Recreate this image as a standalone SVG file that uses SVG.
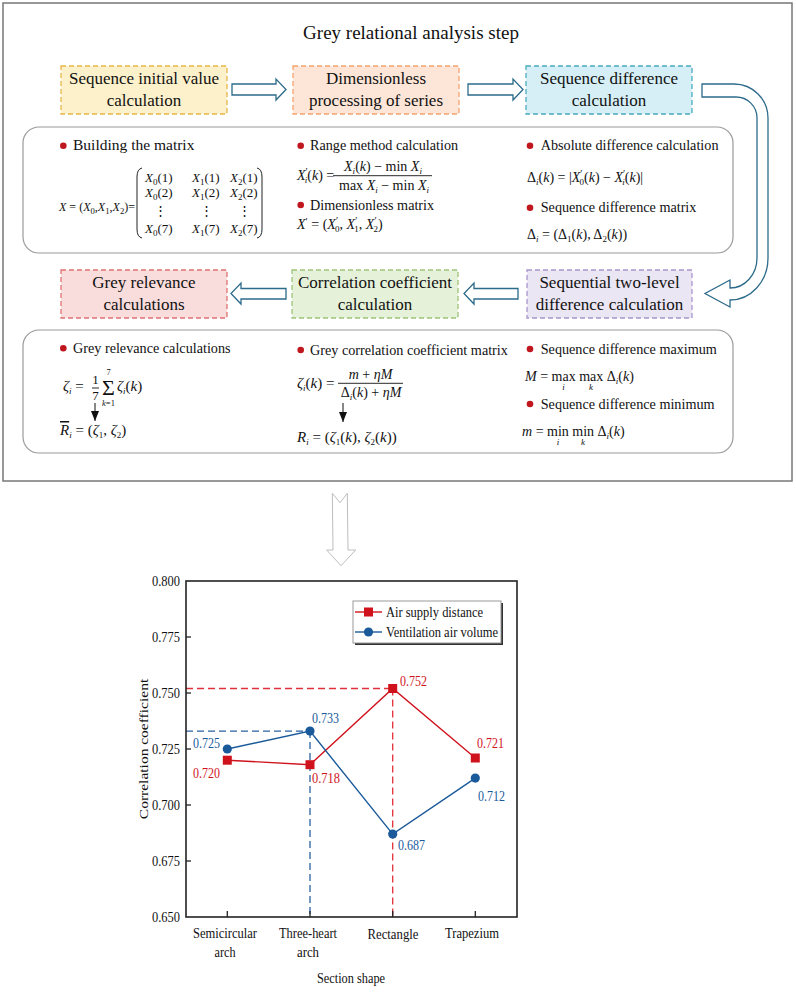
<svg xmlns="http://www.w3.org/2000/svg" width="796" height="993" viewBox="0 0 796 993">
<style>
.t{font-family:"Liberation Serif","DejaVu Serif",serif;fill:#111}
.bx{font-size:17px;text-anchor:middle}
.hd{font-size:14.2px}
.f{font-size:14px}
.g{font-size:15px}
.i{font-style:italic}
.s{font-size:9px;font-style:italic}
.d{font-size:9px;font-style:normal}
.panel{fill:#fff;stroke:#9a9a9a;stroke-width:1.2}
.bul{fill:#c0161e}
.harrow{fill:#fff;stroke:#2c6b8a;stroke-width:1.3}
.dash{stroke-dasharray:5 3;stroke-width:1.3}
.ax{font-size:15px}
.tick{stroke:#222;stroke-width:1.3}
.red{fill:#d0121c}
.blue{fill:#1a5a9a}
</style>
<defs>
<marker id="ah" viewBox="0 0 10 8" refX="10" refY="4" markerWidth="10" markerHeight="8" markerUnits="userSpaceOnUse" orient="auto">
<path d="M0,0 L10,4 L0,8 Z" fill="#111"/>
</marker>
</defs>
<rect x="0" y="0" width="796" height="993" fill="#fff"/>
<rect x="3" y="3" width="789" height="478" fill="#fff" stroke="#777" stroke-width="1.5"/>
<text class="t" x="411" y="39" font-size="19" text-anchor="middle">Grey relational analysis step</text>

<g id="box-initial">
<rect x="61" y="66" width="166" height="48" fill="#fdf1cc" stroke="#e6b54a" class="dash"/>
<text class="t bx" x="144" y="84">Sequence initial value</text>
<text class="t bx" x="144" y="106">calculation</text>
</g>
<g id="box-dimensionless">
<rect x="293" y="66" width="166" height="48" fill="#fde6d8" stroke="#f4a46c" class="dash"/>
<text class="t bx" x="376" y="84">Dimensionless</text>
<text class="t bx" x="376" y="106">processing of series</text>
</g>
<g id="box-difference">
<rect x="526" y="66" width="166" height="48" fill="#d6eff6" stroke="#4aabbd" class="dash"/>
<text class="t bx" x="609" y="84">Sequence difference</text>
<text class="t bx" x="609" y="106">calculation</text>
</g>
<g id="box-relevance">
<rect x="61" y="270" width="166" height="48" fill="#f9dcdc" stroke="#e07070" class="dash"/>
<text class="t bx" x="144" y="288">Grey relevance</text>
<text class="t bx" x="144" y="310">calculations</text>
</g>
<g id="box-coefficient">
<rect x="292" y="270" width="166" height="48" fill="#e6f1d9" stroke="#9cc47a" class="dash"/>
<text class="t bx" x="375" y="288">Correlation coefficient</text>
<text class="t bx" x="375" y="310">calculation</text>
</g>
<g id="box-twolevel">
<rect x="527" y="270" width="165" height="48" fill="#ebe6f3" stroke="#a896cc" class="dash"/>
<text class="t bx" x="609.5" y="288">Sequential two-level</text>
<text class="t bx" x="609.5" y="310">difference calculation</text>
</g>

<g id="panel-1">
<rect class="panel" x="23" y="127" width="710" height="126" rx="16"/>
<circle class="bul" cx="63.3" cy="145.7" r="3.3"/>
<text class="t" x="73" y="150" font-size="15.5">Building the matrix</text>
<text class="t" x="59" y="211" font-size="12.5" textLength="76" lengthAdjust="spacingAndGlyphs"><tspan class="i">X</tspan> = (<tspan class="i">X</tspan><tspan class="d" dy="2.5">0</tspan><tspan dy="-2.5">,</tspan><tspan class="i">X</tspan><tspan class="d" dy="2.5">1</tspan><tspan dy="-2.5">,</tspan><tspan class="i">X</tspan><tspan class="d" dy="2.5">2</tspan><tspan dy="-2.5">)=</tspan></text>
<path d="M142,168 Q137,169 137,177 V229 Q137,237 142,238" fill="none" stroke="#222" stroke-width="1"/>
<path d="M257,168 Q262,169 262,177 V229 Q262,237 257,238" fill="none" stroke="#222" stroke-width="1"/>
<g class="t" font-size="13">
<text x="145" y="182"><tspan class="i">X</tspan><tspan class="d" dy="2.5">0</tspan><tspan dy="-2.5">(1)</tspan></text>
<text x="192" y="182"><tspan class="i">X</tspan><tspan class="d" dy="2.5">1</tspan><tspan dy="-2.5">(1)</tspan></text>
<text x="230" y="182"><tspan class="i">X</tspan><tspan class="d" dy="2.5">2</tspan><tspan dy="-2.5">(1)</tspan></text>
<text x="145" y="197"><tspan class="i">X</tspan><tspan class="d" dy="2.5">0</tspan><tspan dy="-2.5">(2)</tspan></text>
<text x="192" y="197"><tspan class="i">X</tspan><tspan class="d" dy="2.5">1</tspan><tspan dy="-2.5">(2)</tspan></text>
<text x="230" y="197"><tspan class="i">X</tspan><tspan class="d" dy="2.5">2</tspan><tspan dy="-2.5">(2)</tspan></text>
<text x="160" y="215" text-anchor="middle">⋮</text>
<text x="206" y="215" text-anchor="middle">⋮</text>
<text x="244" y="215" text-anchor="middle">⋮</text>
<text x="145" y="233"><tspan class="i">X</tspan><tspan class="d" dy="2.5">0</tspan><tspan dy="-2.5">(7)</tspan></text>
<text x="192" y="233"><tspan class="i">X</tspan><tspan class="d" dy="2.5">1</tspan><tspan dy="-2.5">(7)</tspan></text>
<text x="230" y="233"><tspan class="i">X</tspan><tspan class="d" dy="2.5">2</tspan><tspan dy="-2.5">(7)</tspan></text>
</g>
<circle class="bul" cx="300.7" cy="145.7" r="3.3"/>
<text class="t hd" x="310" y="150">Range method calculation</text>
<text class="t f" x="297" y="180"><tspan class="i">X</tspan><tspan font-size="10" dy="-5">′</tspan><tspan class="s" dx="-3" dy="8">i</tspan><tspan dy="-3">(</tspan><tspan class="i">k</tspan>) =</text>
<text class="t f" x="383" y="171" text-anchor="middle"><tspan class="i">X</tspan><tspan class="s" dy="3">i</tspan><tspan dy="-3">(</tspan><tspan class="i">k</tspan>) − min <tspan class="i">X</tspan><tspan class="s" dy="3">i</tspan></text>
<line x1="333" y1="175.7" x2="432" y2="175.7" stroke="#111" stroke-width="0.9"/>
<text class="t f" x="384" y="190" text-anchor="middle">max <tspan class="i">X</tspan><tspan class="s" dy="3">i</tspan><tspan dy="-3"> − min </tspan><tspan class="i">X</tspan><tspan class="s" dy="3">i</tspan></text>
<circle class="bul" cx="300.7" cy="205" r="3.3"/>
<text class="t hd" x="310" y="210">Dimensionless matrix</text>
<text class="t f" x="297" y="229"><tspan class="i">X</tspan><tspan font-size="10" dy="-4">′</tspan><tspan dy="4"> = (</tspan><tspan class="i">X</tspan><tspan font-size="10" dy="-5">′</tspan><tspan class="d" dx="-3" dy="8">0</tspan><tspan dy="-3">, </tspan><tspan class="i">X</tspan><tspan font-size="10" dy="-5">′</tspan><tspan class="d" dx="-3" dy="8">1</tspan><tspan dy="-3">, </tspan><tspan class="i">X</tspan><tspan font-size="10" dy="-5">′</tspan><tspan class="d" dx="-3" dy="8">2</tspan><tspan dy="-3">)</tspan></text>
<circle class="bul" cx="530" cy="145.7" r="3.3"/>
<text class="t hd" x="540.7" y="150">Absolute difference calculation</text>
<text class="t f" x="527" y="182">Δ<tspan class="s" dy="3">i</tspan><tspan dy="-3">(</tspan><tspan class="i">k</tspan>) = |<tspan class="i">X</tspan><tspan font-size="10" dy="-5">′</tspan><tspan class="d" dx="-3" dy="8">0</tspan><tspan dy="-3">(</tspan><tspan class="i">k</tspan>) − <tspan class="i">X</tspan><tspan font-size="10" dy="-5">′</tspan><tspan class="s" dx="-3" dy="8">i</tspan><tspan dy="-3">(</tspan><tspan class="i">k</tspan>)|</text>
<circle class="bul" cx="530" cy="207.7" r="3.3"/>
<text class="t hd" x="540.7" y="212">Sequence difference matrix</text>
<text class="t f" x="527" y="239">Δ<tspan class="s" dy="3">i</tspan><tspan dy="-3"> = (Δ</tspan><tspan class="d" dy="3">1</tspan><tspan dy="-3">(</tspan><tspan class="i">k</tspan>), Δ<tspan class="d" dy="3">2</tspan><tspan dy="-3">(</tspan><tspan class="i">k</tspan>))</text>
</g>

<g id="panel-2">
<rect class="panel" x="23" y="330" width="710" height="123" rx="16"/>
<circle class="bul" cx="63.3" cy="348.3" r="3.3"/>
<text class="t hd" x="73" y="353">Grey relevance calculations</text>
<text class="t g" x="63" y="391"><tspan class="i">ζ</tspan><tspan class="s" dy="3">i</tspan><tspan dy="-3"> =</tspan></text>
<text class="t" x="95.5" y="384" font-size="13" text-anchor="middle">1</text>
<line x1="92" y1="388" x2="99" y2="388" stroke="#111" stroke-width="0.9"/>
<text class="t" x="95.5" y="400" font-size="13" text-anchor="middle">7</text>
<text class="t" x="102" y="395" font-size="22">Σ</text>
<text class="t" x="108.5" y="375" font-size="8.5" text-anchor="middle">7</text>
<text class="t" x="108.5" y="406" font-size="8.5" text-anchor="middle"><tspan class="i">k</tspan>=1</text>
<text class="t g" x="117" y="391"><tspan class="i">ζ</tspan><tspan class="s" dy="3">i</tspan><tspan dy="-3">(</tspan><tspan class="i">k</tspan>)</text>
<text class="t g" x="60" y="435"><tspan class="i" text-decoration="overline">R</tspan><tspan class="s" dy="3">i</tspan><tspan dy="-3"> = (</tspan><tspan class="i">ζ</tspan><tspan class="d" dy="3">1</tspan><tspan dy="-3">, </tspan><tspan class="i">ζ</tspan><tspan class="d" dy="3">2</tspan><tspan dy="-3">)</tspan></text>
<circle class="bul" cx="300.7" cy="350" r="3.3"/>
<text class="t hd" x="310" y="354.5">Grey correlation coefficient matrix</text>
<text class="t g" x="297" y="388"><tspan class="i">ζ</tspan><tspan class="s" dy="3">i</tspan><tspan dy="-3">(</tspan><tspan class="i">k</tspan>) =</text>
<text class="t f" x="370.5" y="379" text-anchor="middle"><tspan class="i">m</tspan> + <tspan class="i">ηM</tspan></text>
<line x1="338" y1="383.3" x2="403" y2="383.3" stroke="#111" stroke-width="0.9"/>
<text class="t f" x="371" y="397" text-anchor="middle">Δ<tspan class="s" dy="3">i</tspan><tspan dy="-3">(</tspan><tspan class="i">k</tspan>) + <tspan class="i">ηM</tspan></text>
<text class="t g" x="297" y="442"><tspan class="i">R</tspan><tspan class="s" dy="3">i</tspan><tspan dy="-3"> = (</tspan><tspan class="i">ζ</tspan><tspan class="d" dy="3">1</tspan><tspan dy="-3">(</tspan><tspan class="i">k</tspan>), <tspan class="i">ζ</tspan><tspan class="d" dy="3">2</tspan><tspan dy="-3">(</tspan><tspan class="i">k</tspan>))</text>
<circle class="bul" cx="530" cy="349" r="3.3"/>
<text class="t hd" x="540.7" y="353.5">Sequence difference maximum</text>
<text class="t f" x="525" y="381"><tspan class="i">M</tspan> = max max Δ<tspan class="s" dy="3">i</tspan><tspan dy="-3">(</tspan><tspan class="i">k</tspan>)</text>
<text class="t s" x="563.5" y="390" text-anchor="middle">i</text>
<text class="t s" x="591" y="390" text-anchor="middle">k</text>
<circle class="bul" cx="530" cy="404" r="3.3"/>
<text class="t hd" x="540.7" y="408.5">Sequence difference minimum</text>
<text class="t f" x="522" y="436"><tspan class="i">m</tspan> = min min Δ<tspan class="s" dy="3">i</tspan><tspan dy="-3">(</tspan><tspan class="i">k</tspan>)</text>
<text class="t s" x="558" y="445" text-anchor="middle">i</text>
<text class="t s" x="583" y="445" text-anchor="middle">k</text>
</g>

<g id="connectors">
<path class="harrow" d="M232,84 H276 V79 L286,89.5 L276,100 V95 H232 Z"/>
<path class="harrow" d="M468,84 H513 V79 L523,89.5 L513,100 V95 H468 Z"/>
<path class="harrow" d="M702,84 H734 A34,34 0 0 1 768,118 V258 A38,42 0 0 1 730,300 V307 L705,293.5 L730,280 V288 A27,30 0 0 0 757,258 V118 A21,21 0 0 0 736,97 H702 Z"/>
<path class="harrow" d="M518,288.5 H474 V283 L464,293.5 L474,304 V299 H518 Z"/>
<path class="harrow" d="M286,288.5 H241 V283 L231,293.5 L241,304 V299 H286 Z"/>
<line x1="95" y1="403" x2="95" y2="421" stroke="#111" stroke-width="1" marker-end="url(#ah)"/>
<line x1="343" y1="403" x2="343" y2="422" stroke="#111" stroke-width="1" marker-end="url(#ah)"/>
<path d="M332.3,493.3 L340,502.7 L347.3,493.3 L348,550 L355.7,550 L341,565.7 L326.7,550 L333,550 Z" fill="#fff" stroke="#bdbdbd" stroke-width="1"/>
</g>

<g id="chart">
<line x1="186" y1="688.5" x2="392.7" y2="688.5" stroke="#e0303a" stroke-width="1.3" stroke-dasharray="7 4"/>
<line x1="392.7" y1="688.5" x2="392.7" y2="917" stroke="#e0303a" stroke-width="1.3" stroke-dasharray="7 4"/>
<line x1="186" y1="731.1" x2="310" y2="731.1" stroke="#2a62a0" stroke-width="1.3" stroke-dasharray="7 4"/>
<line x1="310" y1="731.1" x2="310" y2="917" stroke="#2a62a0" stroke-width="1.3" stroke-dasharray="7 4"/>
<rect x="186" y="581" width="331" height="336" fill="none" stroke="#222" stroke-width="1.6"/>
<g class="tick">
<line x1="186" y1="637" x2="191" y2="637"/>
<line x1="186" y1="693" x2="191" y2="693"/>
<line x1="186" y1="749" x2="191" y2="749"/>
<line x1="186" y1="805" x2="191" y2="805"/>
<line x1="186" y1="861" x2="191" y2="861"/>
<line x1="227.3" y1="917" x2="227.3" y2="911"/>
<line x1="310" y1="917" x2="310" y2="911"/>
<line x1="392.7" y1="917" x2="392.7" y2="911"/>
<line x1="475.3" y1="917" x2="475.3" y2="911"/>
</g>
<g class="t ax" text-anchor="end">
<text x="180" y="586" textLength="28" lengthAdjust="spacingAndGlyphs">0.800</text>
<text x="180" y="642" textLength="28" lengthAdjust="spacingAndGlyphs">0.775</text>
<text x="180" y="698" textLength="28" lengthAdjust="spacingAndGlyphs">0.750</text>
<text x="180" y="754" textLength="28" lengthAdjust="spacingAndGlyphs">0.725</text>
<text x="180" y="810" textLength="28" lengthAdjust="spacingAndGlyphs">0.700</text>
<text x="180" y="866" textLength="28" lengthAdjust="spacingAndGlyphs">0.675</text>
<text x="180" y="922" textLength="28" lengthAdjust="spacingAndGlyphs">0.650</text>
</g>
<g class="t ax" text-anchor="middle">
<text x="225" y="938" textLength="64" lengthAdjust="spacingAndGlyphs">Semicircular</text>
<text x="225" y="957" textLength="21" lengthAdjust="spacingAndGlyphs">arch</text>
<text x="308" y="938" textLength="58" lengthAdjust="spacingAndGlyphs">Three-heart</text>
<text x="308" y="957" textLength="22" lengthAdjust="spacingAndGlyphs">arch</text>
<text x="393" y="939" textLength="51" lengthAdjust="spacingAndGlyphs">Rectangle</text>
<text x="472" y="938" textLength="54" lengthAdjust="spacingAndGlyphs">Trapezium</text>
<text x="351" y="983" textLength="68" lengthAdjust="spacingAndGlyphs">Section shape</text>
</g>
<text class="t" font-size="15.5" text-anchor="middle" transform="translate(148,749) scale(0.83,1) rotate(-90)">Correlation coefficient</text>
<polyline points="227.3,760.2 310,764.7 392.7,688.5 475.3,758" fill="none" stroke="#d0121c" stroke-width="1.4"/>
<polyline points="227.3,749 310,731.1 392.7,834.1 475.3,778.1" fill="none" stroke="#1a5a9a" stroke-width="1.4"/>
<g class="red">
<rect x="222.8" y="755.7" width="9" height="9"/>
<rect x="305.5" y="760.2" width="9" height="9"/>
<rect x="388.2" y="684" width="9" height="9"/>
<rect x="470.8" y="753.5" width="9" height="9"/>
</g>
<g class="blue">
<circle cx="227.3" cy="749" r="4.6"/>
<circle cx="310" cy="731.1" r="4.6"/>
<circle cx="392.7" cy="834.1" r="4.6"/>
<circle cx="475.3" cy="778.1" r="4.6"/>
</g>
<g class="t ax">
<text x="193" y="748" fill="#1a5a9a" textLength="27" lengthAdjust="spacingAndGlyphs">0.725</text>
<text x="193" y="778" fill="#d0121c" textLength="27" lengthAdjust="spacingAndGlyphs">0.720</text>
<text x="312" y="723" fill="#1a5a9a" textLength="27" lengthAdjust="spacingAndGlyphs">0.733</text>
<text x="312" y="783" fill="#d0121c" textLength="28" lengthAdjust="spacingAndGlyphs">0.718</text>
<text x="400" y="686" fill="#d0121c" textLength="27" lengthAdjust="spacingAndGlyphs">0.752</text>
<text x="398" y="850" fill="#1a5a9a" textLength="27" lengthAdjust="spacingAndGlyphs">0.687</text>
<text x="477" y="748" fill="#d0121c" textLength="27" lengthAdjust="spacingAndGlyphs">0.721</text>
<text x="478" y="801" fill="#1a5a9a" textLength="27" lengthAdjust="spacingAndGlyphs">0.712</text>
</g>
<g id="legend">
<rect x="355" y="603" width="148" height="42" fill="#333"/>
<rect x="353" y="601" width="148" height="42" fill="#fff" stroke="#999" stroke-width="1"/>
<line x1="355" y1="612" x2="382" y2="612" stroke="#d0121c" stroke-width="1.4"/>
<rect x="364" y="607.5" width="9" height="9" class="red"/>
<line x1="355" y1="632" x2="382" y2="632" stroke="#1a5a9a" stroke-width="1.4"/>
<circle cx="368.5" cy="632" r="4.6" class="blue"/>
<text class="t ax" x="386" y="617" textLength="97" lengthAdjust="spacingAndGlyphs">Air supply distance</text>
<text class="t ax" x="386" y="637" textLength="112" lengthAdjust="spacingAndGlyphs">Ventilation air volume</text>
</g>
</g>
</svg>
